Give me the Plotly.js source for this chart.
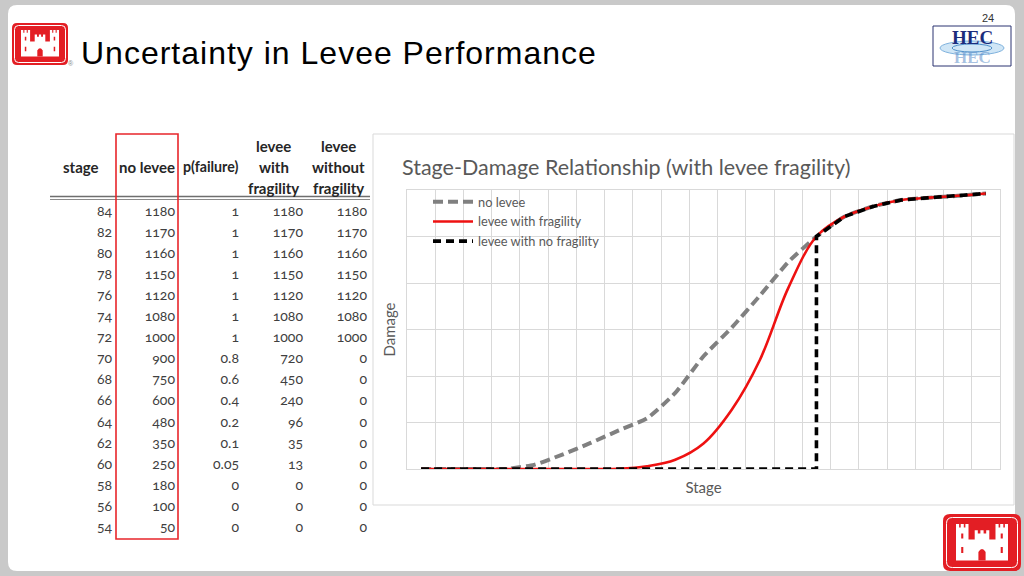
<!DOCTYPE html>
<html><head><meta charset="utf-8">
<script src="https://cdn.plot.ly/plotly-3.0.1.min.js"></script>
<style>
html,body{margin:0;padding:0;background:#fff;}
#chart{width:1024px;height:576px;}
.table text{font-variant-numeric:oldstyle-nums;font-feature-settings:"onum" 1;}
g.annotation[data-index="0"] text{letter-spacing:1px;}
</style></head><body><div id="chart"></div>
<script>
// ---- Table data ----
const tableHeaders = ['stage', 'no levee', 'p(failure)', 'levee<br>with<br>fragility', 'levee<br>without<br>fragility'];
const tableStage = [84, 82, 80, 78, 76, 74, 72, 70, 68, 66, 64, 62, 60, 58, 56, 54];
const tableNoLevee = [1180, 1170, 1160, 1150, 1120, 1080, 1000, 900, 750, 600, 480, 350, 250, 180, 100, 50];
const tablePFailure = ['1', '1', '1', '1', '1', '1', '1', '0.8', '0.6', '0.4', '0.2', '0.1', '0.05', '0', '0', '0'];
const tableLeveeWithFragility = [1180, 1170, 1160, 1150, 1120, 1080, 1000, 720, 450, 240, 96, 35, 13, 0, 0, 0];
const tableLeveeWithoutFragility = [1180, 1170, 1160, 1150, 1120, 1080, 1000, 0, 0, 0, 0, 0, 0, 0, 0, 0];

// ---- Chart data ----
const curvePoints = [0, 1, 2, 3, 4, 5, 6, 7, 8, 9, 10, 11, 12, 13, 14, 15, 16, 17, 18, 19, 20];
const noLeveeDamage = [0, 0, 0, 0, 18, 62, 112, 166, 218, 327, 485, 608, 746, 890, 1000, 1086, 1129, 1157, 1167, 1175, 1185];
const leveeFragilityDamage = [0, 0, 0, 0, 0, 0, 0, 1, 12, 40, 110, 255, 470, 778, 1000, 1086, 1129, 1157, 1167, 1175, 1185];
const leveeNoFragilityPoints = [0, 1, 2, 3, 4, 5, 6, 7, 8, 9, 10, 11, 12, 13, 14, 14, 15, 16, 17, 18, 19, 20];
const leveeNoFragilityDamage = [0, 0, 0, 0, 0, 0, 0, 0, 0, 0, 0, 0, 0, 0, 0, 1000, 1086, 1129, 1157, 1167, 1175, 1185];
const seriesNames = ['no levee', 'levee with fragility', 'levee with no fragility'];

const W = 1024, H = 576;
const px = x => x / W;
const py = y => 1 - y / H;
const FONT = 'Lato, "Open Sans", sans-serif';
const GREY_TXT = '#595959';

// header label placement (pixel centres of each column's header block)
const headerCentreX = [81, 146.5, 210, 273.5, 338.5];
const headerLineY = {1: [166.5], 3: [145.5, 166.5, 187.5]};
const headerAnnotations = [];
tableHeaders.forEach((h, i) => {
  const lines = h.split('<br>');
  lines.forEach((l, j) => {
    headerAnnotations.push({xref:'x2', yref:'y2', x:headerCentreX[i], y:headerLineY[lines.length][j],
      xanchor:'center', yanchor:'middle', showarrow:false, text:'<b>' + l + '</b>',
      font:{family:FONT, size:(i === 2 ? 14.2 : 15), color:'#262626'}});
  });
});

// castle outline (unit geometry)
const castlePoly = [[0,70],[0,0],[6,0],[6,7],[9,7],[9,0],[15,0],[15,7],[18,7],[18,0],[24,0],[24,30],[36,30],[36,12],[42,12],[42,18],[47,18],[47,12],[53,12],[53,18],[58,18],[58,12],[64,12],[64,30],[76,30],[76,0],[82,0],[82,7],[85,7],[85,0],[91,0],[91,7],[94,7],[94,0],[100,0],[100,70]];
function castle(ox, oy, s) {
  return 'M' + castlePoly.map(p => (ox + p[0]*s).toFixed(1) + ',' + (oy + p[1]*s).toFixed(1)).join(' L') + ' Z';
}
function door(ox, oy, s) {
  const X = v => (ox + v*s).toFixed(1), Y = v => (oy + v*s).toFixed(1);
  return `M${X(43)},${Y(70)} L${X(43)},${Y(54)} Q${X(50)},${Y(42)} ${X(57)},${Y(54)} L${X(57)},${Y(70)} Z`;
}
function windows(ox, oy, s) {
  const X = v => (ox + v*s).toFixed(1), Y = v => (oy + v*s).toFixed(1);
  const r = (a,b,c,d) => `M${X(a)},${Y(b)} L${X(c)},${Y(b)} L${X(c)},${Y(d)} L${X(a)},${Y(d)} Z`;
  return r(10,18,14,28) + ' ' + r(86,18,90,28) + ' ' + r(10,44,14,56) + ' ' + r(86,44,90,56);
}
function rrect(x0, y0, x1, y1, r) {
  return `M${x0+r},${y0} L${x1-r},${y0} Q${x1},${y0} ${x1},${y0+r} L${x1},${y1-r} Q${x1},${y1} ${x1-r},${y1} L${x0+r},${y1} Q${x0},${y1} ${x0},${y1-r} L${x0},${y0+r} Q${x0},${y0} ${x0+r},${y0} Z`;
}
const RED = '#e31e24';
function logoShapes(x0, y0, x1, y1, r, inset, cx, cy, s) {
  return [
    {type:'path', xref:'x2', yref:'y2', layer:'above', path: rrect(x0,y0,x1,y1,r), fillcolor: RED, line:{width:0}},
    {type:'path', xref:'x2', yref:'y2', layer:'above', path: rrect(x0+inset,y0+inset,x1-inset,y1-inset,r-1), fillcolor:'rgba(0,0,0,0)', line:{color:'#ffffff', width:1}},
    {type:'path', xref:'x2', yref:'y2', layer:'above', path: castle(cx, cy, s), fillcolor:'#ffffff', line:{width:0}},
    {type:'path', xref:'x2', yref:'y2', layer:'above', path: door(cx, cy, s), fillcolor: RED, line:{width:0}},
    {type:'path', xref:'x2', yref:'y2', layer:'above', path: windows(cx, cy, s), fillcolor: RED, line:{width:0}}
  ];
}

const shapes = [
  // grey slide frame
  {type:'path', xref:'x2', yref:'y2', layer:'above', fillcolor:'#c9c9c9', line:{width:0},
   path:'M0,0 L1024,0 L1024,576 L0,576 Z ' + rrect(8,5,1015,571,9)},
  // chart box
  {type:'rect', xref:'x2', yref:'y2', layer:'above', x0:373, x1:1014, y0:134, y1:505, line:{color:'#d9d9d9', width:1}},
  // header double rule
  {type:'line', xref:'x2', yref:'y2', layer:'above', x0:50, x1:370, y0:196.5, y1:196.5, line:{color:'#6e6e6e', width:1.5}},
  {type:'line', xref:'x2', yref:'y2', layer:'above', x0:50, x1:370, y0:199.5, y1:199.5, line:{color:'#8a8a8a', width:1.2}},
  // red highlight box around "no levee"
  {type:'rect', xref:'x2', yref:'y2', layer:'above', x0:116, x1:178, y0:134, y1:539, line:{color:'#e8262b', width:1.6}},
  // HEC logo box and water ripples
  {type:'rect', xref:'x2', yref:'y2', layer:'above', x0:933, x1:1011, y0:26, y1:66, fillcolor:'#ffffff', line:{color:'#2b3270', width:1}},
  {type:'circle', xref:'x2', yref:'y2', layer:'above', x0:940, x1:1004, y0:41, y1:55, fillcolor:'rgba(150,200,235,0.45)', line:{color:'#7fb2dd', width:1}},
  {type:'circle', xref:'x2', yref:'y2', layer:'above', x0:952, x1:992, y0:44, y1:52, fillcolor:'rgba(0,0,0,0)', line:{color:'#4f8fc8', width:1}}
].concat(logoShapes(12, 23, 68, 65, 5, 2.5, 21, 30, 0.38))
 .concat(logoShapes(943, 514, 1021, 571, 7, 3.5, 956, 524, 0.52));

const traces = [
  {
    type:'table',
    domain:{x:[px(42), px(375)], y:[py(551), py(135)]},
    columnwidth:[78, 63, 64, 64, 64],
    header:{
      values: tableHeaders.map(() => ['']),
      height:62,
      fill:{color:'rgba(0,0,0,0)'},
      line:{width:0, color:'rgba(0,0,0,0)'},
      font:{family:FONT, size:15, color:'#262626'}
    },
    cells:{
      values:[tableStage, tableNoLevee, tablePFailure, tableLeveeWithFragility, tableLeveeWithoutFragility],
      align:'right',
      height:21.1,
      fill:{color:'rgba(0,0,0,0)'},
      line:{width:0, color:'rgba(0,0,0,0)'},
      font:{family:FONT, size:14, color:'#404040'}
    }
  },
  {
    type:'scatter', mode:'lines', name:seriesNames[0],
    x:curvePoints, y:noLeveeDamage,
    line:{color:'#808080', width:4, dash:'10px,5px', shape:'spline', smoothing:0.5},
    xaxis:'x', yaxis:'y'
  },
  {
    type:'scatter', mode:'lines', name:seriesNames[1],
    x:curvePoints, y:leveeFragilityDamage,
    line:{color:'#ee1111', width:2.6, shape:'spline', smoothing:1},
    xaxis:'x', yaxis:'y'
  },
  {
    type:'scatter', mode:'lines', name:seriesNames[2],
    x:leveeNoFragilityPoints, y:leveeNoFragilityDamage,
    line:{color:'#000000', width:3.6, dash:'8px,5px'},
    xaxis:'x', yaxis:'y'
  }
];

const layout = {
  width:W, height:H,
  margin:{l:0, r:0, t:0, b:0},
  paper_bgcolor:'#ffffff',
  plot_bgcolor:'rgba(0,0,0,0)',
  font:{family:FONT, color:GREY_TXT},
  showlegend:true,
  title:{
    text:'Stage-Damage Relationship (with levee fragility)',
    font:{family:FONT, size:21.5, color:GREY_TXT},
    xref:'paper', yref:'paper', x:px(402), y:py(167), xanchor:'left', yanchor:'middle'
  },
  legend:{
    x:px(428), y:py(187), xanchor:'left', yanchor:'top',
    bgcolor:'rgba(0,0,0,0)', borderwidth:0,
    font:{family:FONT, size:12.8, color:GREY_TXT},
    itemwidth:40, tracegroupgap:0
  },
  xaxis:{
    domain:[px(407), px(1000)], range:[-0.5, 20.5],
    tick0:-0.5, dtick:1, showticklabels:false, ticks:'',
    showgrid:true, gridcolor:'#d9d9d9', gridwidth:1, zeroline:false,
    showline:true, linecolor:'#d9d9d9', linewidth:1, mirror:true,
    fixedrange:true,
    title:{text:'Stage', font:{family:FONT, size:15, color:GREY_TXT}, standoff:13}
  },
  yaxis:{
    domain:[py(469), py(190)], range:[0, 1200],
    tick0:0, dtick:200, showticklabels:false, ticks:'',
    showgrid:true, gridcolor:'#d9d9d9', gridwidth:1, zeroline:false,
    showline:true, linecolor:'#d9d9d9', linewidth:1, mirror:true,
    fixedrange:true,
    title:{text:'Damage', font:{family:FONT, size:15, color:GREY_TXT}, standoff:6}
  },
  xaxis2:{domain:[0,1], range:[0,1024], visible:false, anchor:'y2', fixedrange:true},
  yaxis2:{domain:[0,1], range:[576,0], visible:false, anchor:'x2', fixedrange:true},
  shapes: shapes,
  annotations:[
    {xref:'x2', yref:'y2', x:338.5, y:53, xanchor:'center', yanchor:'middle', showarrow:false,
     text:'Uncertainty in Levee Performance', font:{family:'"Liberation Sans", Arial, sans-serif', size:32, color:'#000000'}},
    {xref:'x2', yref:'y2', x:71, y:63, xanchor:'center', yanchor:'middle', showarrow:false,
     text:'®', font:{family:'"Liberation Sans", Arial, sans-serif', size:7, color:'#888888'}},
    {xref:'x2', yref:'y2', x:988, y:18, xanchor:'center', yanchor:'middle', showarrow:false,
     text:'24', font:{family:'"Liberation Sans", Arial, sans-serif', size:11, color:'#333333'}},
    {xref:'x2', yref:'y2', x:972, y:37, xanchor:'center', yanchor:'middle', showarrow:false,
     text:'<b>HEC</b>', font:{family:'"Liberation Serif", "DejaVu Serif", serif', size:19, color:'#1c2c7c'}},
    {xref:'x2', yref:'y2', x:972, y:57, xanchor:'center', yanchor:'middle', showarrow:false,
     text:'<b>HEC</b>', font:{family:'"Liberation Serif", "DejaVu Serif", serif', size:17, color:'rgba(90,140,200,0.55)'}}
  ].concat(headerAnnotations)
};

Plotly.newPlot('chart', traces, layout, {staticPlot:true, displayModeBar:false});
</script>
</body></html>
